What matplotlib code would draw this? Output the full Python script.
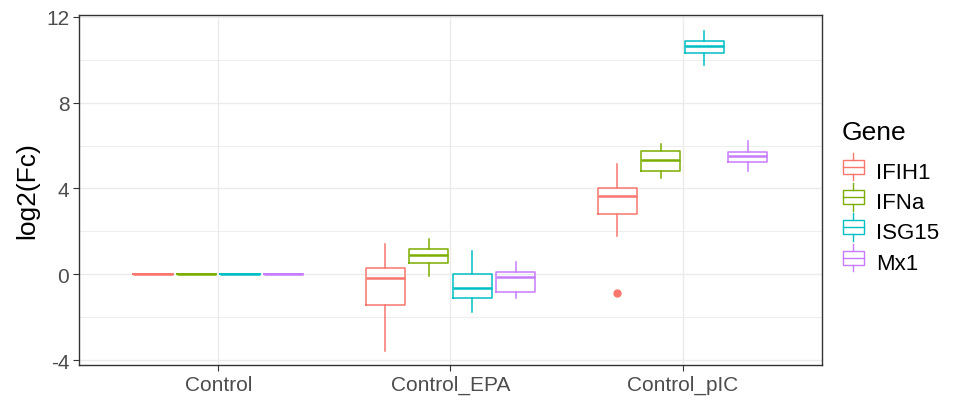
import matplotlib.pyplot as plt
from matplotlib.legend_handler import HandlerBase
from matplotlib.patches import Rectangle
from matplotlib.lines import Line2D

plt.rcParams['font.family'] = ['Liberation Sans', 'DejaVu Sans']
plt.rcParams['axes.unicode_minus'] = False

treatments = ['Control', 'Control_EPA', 'Control_pIC']
genes = ['IFIH1', 'IFNa', 'ISG15', 'Mx1']
colors = ['#F8766D', '#7CAE00', '#00BFC4', '#C77CFF']

# five-number summaries per gene, one entry per treatment
whisk_lo = {
    'IFIH1': [0, -3.57, 1.80],
    'IFNa':  [0, -0.08, 4.47],
    'ISG15': [0, -1.77, 9.77],
    'Mx1':   [0, -1.12, 4.82],
}
q1 = {
    'IFIH1': [0, -1.41, 2.79],
    'IFNa':  [0, 0.51, 4.82],
    'ISG15': [0, -1.12, 10.31],
    'Mx1':   [0, -0.82, 5.22],
}
med = {
    'IFIH1': [0, -0.15, 3.64],
    'IFNa':  [0, 0.90, 5.32],
    'ISG15': [0, -0.62, 10.62],
    'Mx1':   [0, -0.11, 5.52],
}
q3 = {
    'IFIH1': [0, 0.28, 4.00],
    'IFNa':  [0, 1.16, 5.74],
    'ISG15': [0, 0.00, 10.87],
    'Mx1':   [0, 0.11, 5.71],
}
whisk_hi = {
    'IFIH1': [0, 1.40, 5.16],
    'IFNa':  [0, 1.67, 6.09],
    'ISG15': [0, 1.10, 11.33],
    'Mx1':   [0, 0.59, 6.22],
}
outliers = {
    'IFIH1': [[], [], [-0.88]],
    'IFNa':  [[], [], []],
    'ISG15': [[], [], []],
    'Mx1':   [[], [], []],
}

fig = plt.figure(figsize=(9.68, 4.02), dpi=100)
ax = fig.add_axes([0.0816, 0.0896, 0.7674, 0.8706])

dodge = 0.75 / len(genes)
for gi, (gene, col) in enumerate(zip(genes, colors)):
    stats = []
    for ti in range(len(treatments)):
        stats.append(dict(whislo=whisk_lo[gene][ti], q1=q1[gene][ti], med=med[gene][ti],
                          q3=q3[gene][ti], whishi=whisk_hi[gene][ti],
                          fliers=outliers[gene][ti]))
    pos = [ti + 1 - 0.375 + dodge * (gi + 0.5) for ti in range(len(treatments))]
    ax.bxp(stats, positions=pos, widths=dodge * 0.9, showcaps=False, patch_artist=False,
           boxprops=dict(color=col, linewidth=1.1),
           medianprops=dict(color=col, linewidth=1.8),
           whiskerprops=dict(color=col, linewidth=1.1),
           flierprops=dict(marker='o', markerfacecolor=col, markeredgecolor=col,
                           markersize=5),
           manage_ticks=False, zorder=3)

ax.set_xlim(0.4, 3.6)
ax.set_ylim(-4.22, 12.08)
ax.set_xticks([1, 2, 3])
ax.set_xticklabels(treatments)
ax.set_yticks([-4, 0, 4, 8, 12])
ax.set_yticks([-2, 2, 6, 10], minor=True)
ax.tick_params(axis='both', which='major', labelsize=15, labelcolor='#4D4D4D',
               color='#333333', length=4, width=0.8, pad=3)
ax.tick_params(axis='y', which='minor', length=0)
ax.grid(True, which='major', color='#EBEBEB', linewidth=1.0, zorder=0)
ax.grid(True, which='minor', axis='y', color='#EBEBEB', linewidth=0.6, zorder=0)
ax.set_axisbelow(True)
for s in ax.spines.values():
    s.set_color('#333333')
    s.set_linewidth(1.0)
ax.set_ylabel('log2(Fc)', fontsize=19, labelpad=5)


class BoxHandler(HandlerBase):
    def create_artists(self, legend, orig, xd, yd, w, h, fontsize, trans):
        col = orig.get_color()
        cx = xd + w / 2
        bw = w * 0.85
        rect = Rectangle((cx - bw / 2, yd + h * 0.1), bw, h * 0.7, fill=False,
                         edgecolor=col, linewidth=1.0, transform=trans)
        mid = Line2D([cx - bw / 2, cx + bw / 2], [yd + h * 0.45] * 2, color=col,
                     linewidth=1.0, transform=trans)
        top = Line2D([cx, cx], [yd + h * 0.8, yd + h * 1.15], color=col,
                     linewidth=1.0, transform=trans)
        bot = Line2D([cx, cx], [yd - h * 0.25, yd + h * 0.1], color=col,
                     linewidth=1.0, transform=trans)
        return [rect, mid, top, bot]


handles = [Line2D([], [], color=c) for c in colors]
leg = fig.legend(handles, genes, handler_map={Line2D: BoxHandler()},
                 loc='upper left', bbox_to_anchor=(0.869, 0.70), frameon=False,
                 title='Gene', title_fontsize=19, fontsize=16,
                 handlelength=1.1, handleheight=1.0, handletextpad=0.45,
                 labelspacing=0.35, borderaxespad=0, borderpad=0)
leg._legend_box.align = 'left'
leg._legend_box.sep = 12

fig.savefig('out.png', dpi=100)
